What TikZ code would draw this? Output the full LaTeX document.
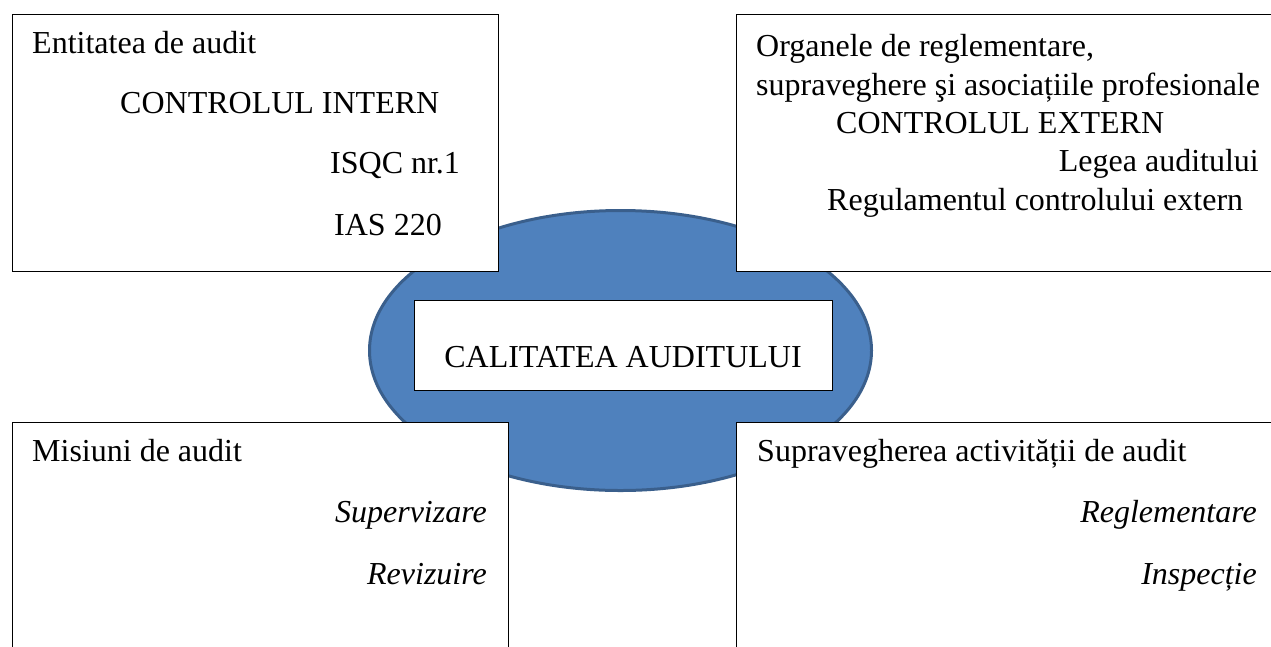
\documentclass[tikz,border=0pt]{standalone}
\usepackage{fontspec}
\setmainfont{Liberation Serif}
\usetikzlibrary{shapes.geometric}
\definecolor{ovalfill}{HTML}{4F81BD}
\definecolor{ovalline}{HTML}{3A5F8C}

\begin{document}
\begin{tikzpicture}[x=1pt,y=-1pt,font=\fontsize{32}{38}\selectfont]
\tikzstyle{box} = [draw=black, line width=0.9pt, fill=white, inner sep=0pt]
\tikzstyle{oval} = [ellipse, draw=ovalline, line width=3pt, fill=ovalfill, inner sep=0pt]
\tikzstyle{txt} = [inner sep=0pt]
\tikzstyle{txtl} = [txt, anchor=base west]
\tikzstyle{txtr} = [txt, anchor=base east]

\useasboundingbox (0,0) rectangle (1271,646);
\clip (0,0) rectangle (1271,646);

% central oval
\node[oval, minimum width=502, minimum height=280] (C) at (620.5,350.5) {};

% the four boxes
\node[box, minimum width=486, minimum height=257] (TL) at (255,142.5) {};
\node[box, minimum width=560, minimum height=257] (TR) at (1016,142.5) {};
\node[box, minimum width=496, minimum height=250] (BL) at (260,547) {};
\node[box, minimum width=560, minimum height=250] (BR) at (1016,547) {};

% centre
\node[box, minimum width=418, minimum height=90] (Q) at (623,345) {};
\node[txt, anchor=base] (Qt) at (623,367) {CALITATEA AUDITULUI};

% top left
\node[txtl] (TL1) at (32,53) {Entitatea de audit};
\node[txtl] (TL2) at (120,113) {CONTROLUL INTERN};
\node[txtl] (TL3) at (330,173) {ISQC nr.1};
\node[txtl] (TL4) at (334,235) {IAS 220};

% top right
\node[txtl] (TR1) at (756,56) {Organele de reglementare,};
\node[txtl] (TR2) at (756,95) {supraveghere şi asociațiile profesionale};
\node[txtl] (TR3) at (836,133.5) {CONTROLUL EXTERN};
\node[txtr] (TR4) at (1259,171.5) {Legea auditului};
\node[txtl] (TR5) at (827,210) {Regulamentul controlului extern};

% bottom left
\node[txtl] (BL1) at (32,461) {Misiuni de audit};
\node[txtr] (BL2) at (487,522) {\itshape Supervizare};
\node[txtr] (BL3) at (487,584) {\itshape Revizuire};

% bottom right
\node[txtl] (BR1) at (757,461) {Supravegherea activității de audit};
\node[txtr] (BR2) at (1257,522) {\itshape Reglementare};
\node[txtr] (BR3) at (1257,584) {\itshape Inspecție};
\end{tikzpicture}
\end{document}
